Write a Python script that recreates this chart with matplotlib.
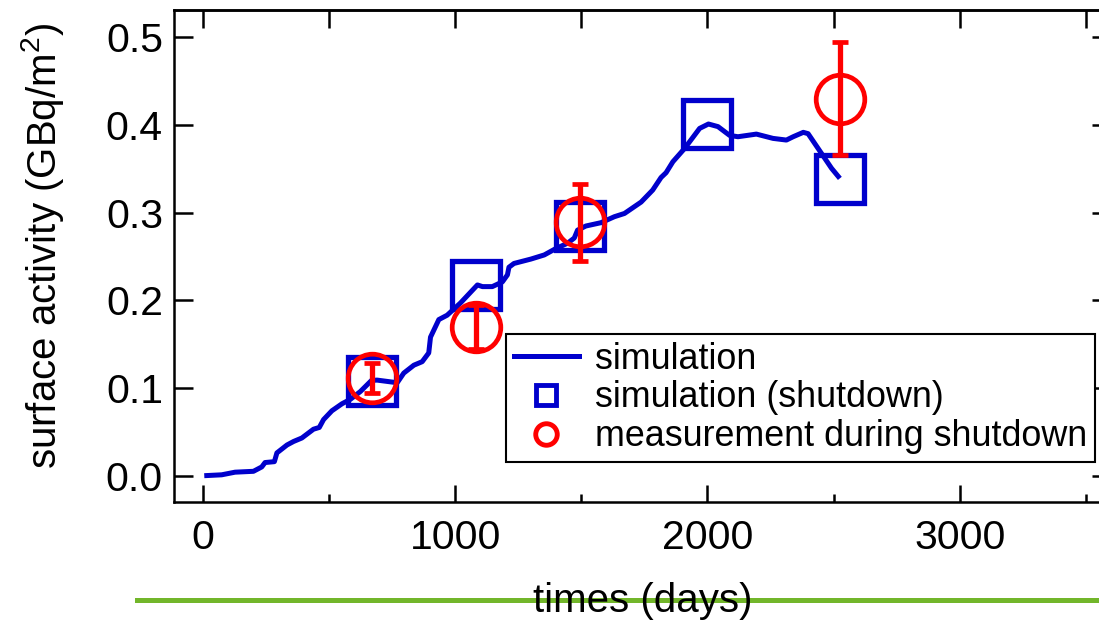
import matplotlib
matplotlib.use("Agg")
import matplotlib.pyplot as plt
from matplotlib.lines import Line2D

plt.rcParams['font.family'] = ['Liberation Sans', 'DejaVu Sans']
plt.rcParams['mathtext.fontset'] = 'custom'
plt.rcParams['mathtext.rm'] = 'Liberation Sans'
plt.rcParams['mathtext.it'] = 'Liberation Sans:italic'

# simulation curve (days, GBq/m2)
sim_days = [5, 74, 127, 200, 233, 246, 283, 293, 333, 359, 392, 438, 461, 478, 511, 551,
            584, 624, 668, 690, 770, 796, 836, 869, 895, 902, 935, 968, 1021, 1088, 1108,
            1147, 1187, 1207, 1213, 1233, 1300, 1353, 1399, 1445, 1472, 1485, 1518, 1578,
            1631, 1671, 1737, 1783, 1816, 1836, 1863, 1909, 1969, 2004, 2042, 2088, 2121,
            2194, 2260, 2313, 2340, 2380, 2399, 2452, 2492, 2525]
sim_vals = [0.0, 0.001, 0.004, 0.005, 0.010, 0.015, 0.016, 0.026, 0.035, 0.039, 0.043,
            0.053, 0.055, 0.064, 0.074, 0.082, 0.087, 0.096, 0.1086, 0.109, 0.106, 0.117,
            0.126, 0.130, 0.140, 0.158, 0.178, 0.183, 0.197, 0.2175, 0.2156, 0.2156, 0.221,
            0.229, 0.2377, 0.242, 0.247, 0.2517, 0.259, 0.265, 0.271, 0.280, 0.2847, 0.2885,
            0.2953, 0.299, 0.312, 0.3257, 0.340, 0.3455, 0.358, 0.373, 0.396, 0.401, 0.398,
            0.388, 0.3865, 0.3895, 0.3846, 0.3827, 0.3865, 0.3915, 0.390, 0.3675, 0.3505, 0.339]

# simulation at shutdown
shut_days = [672, 1084, 1494, 2000, 2524]
shut_vals = [0.108, 0.2175, 0.285, 0.401, 0.338]

# measurements during shutdown
meas_days = [672, 1084, 1494, 2524]
meas_vals = [0.111, 0.170, 0.289, 0.430]
meas_err = [0.017, 0.025, 0.044, 0.064]

labels = ["simulation", "simulation (shutdown)", "measurement during shutdown"]
xlabel = "times (days)"
ylabel = r"surface activity (GBq/m$^2$)"

BLUE = '#0000cc'
RED = '#ff0000'
GREEN = '#72b62a'

W, H = 1099, 620
fig = plt.figure(figsize=(W / 100, H / 100), dpi=100)
ax = fig.add_axes([174 / W, 1 - 502 / H, (1111 - 174) / W, (502 - 10) / H])

ax.plot(sim_days, sim_vals, color=BLUE, lw=3.6, zorder=3, solid_joinstyle='round',
        solid_capstyle='butt')
ax.plot(shut_days, shut_vals, ls='none', marker='s', ms=34, mfc='none', mec=BLUE,
        mew=3.8, zorder=2)
ax.errorbar(meas_days, meas_vals, yerr=meas_err, fmt='o', ms=35, mfc='none', mec=RED,
            mew=3.4, ecolor=RED, elinewidth=3.8, capsize=6, capthick=3, zorder=4)

ax.set_xlim(-115, 3600)
ax.set_ylim(-0.03, 0.531)
ax.set_xticks([0, 1000, 2000, 3000])
ax.set_xticks([500, 1500, 2500, 3500], minor=True)
ax.set_yticks([0.0, 0.1, 0.2, 0.3, 0.4, 0.5])
ax.set_yticklabels(["0.0", "0.1", "0.2", "0.3", "0.4", "0.5"])

for s in ax.spines.values():
    s.set_linewidth(1.8)
ax.tick_params(axis='x', which='major', direction='in', length=12, width=1.8,
               labelsize=29.5, pad=12, top=False)
ax.tick_params(axis='x', which='minor', direction='in', length=6, width=1.8, top=False)
ax.tick_params(axis='y', which='major', direction='in', length=14, width=1.8,
               labelsize=29.5, pad=8, right=True)

sec = ax.secondary_xaxis('top')
sec.set_xticks([0, 500, 1000, 1500, 2000, 2500, 3000, 3500])
sec.tick_params(direction='in', length=13, width=1.8, labeltop=False)
sec.spines['top'].set_linewidth(1.8)

ax.set_xlabel(xlabel, fontsize=29)
ax.xaxis.set_label_coords(0.5, -0.163)
ax.set_ylabel(ylabel, fontsize=29)
ax.yaxis.set_label_coords(-0.115, 0.52)

handles = [
    Line2D([], [], color=BLUE, lw=3.6),
    Line2D([], [], ls='none', marker='s', ms=15, mfc='none', mec=BLUE, mew=3.5),
    Line2D([], [], ls='none', marker='o', ms=15.5, mfc='none', mec=RED, mew=3.5),
]
leg = ax.legend(handles, labels, loc='upper left',
                bbox_to_anchor=(506 / W, 1 - 334 / H), bbox_transform=fig.transFigure,
                borderaxespad=0, fontsize=25.8, frameon=True, fancybox=False,
                framealpha=1, edgecolor='black', borderpad=0.22, handlelength=1.82,
                handletextpad=0.45, labelspacing=0.1)
leg.get_frame().set_linewidth(1.5)
leg.set_zorder(5)

fig.add_artist(Line2D([137 / W, 1.0], [1 - 600 / H, 1 - 600 / H], color=GREEN, lw=3.6,
                      transform=fig.transFigure, zorder=-1))

fig.savefig("out.png", dpi=100)
